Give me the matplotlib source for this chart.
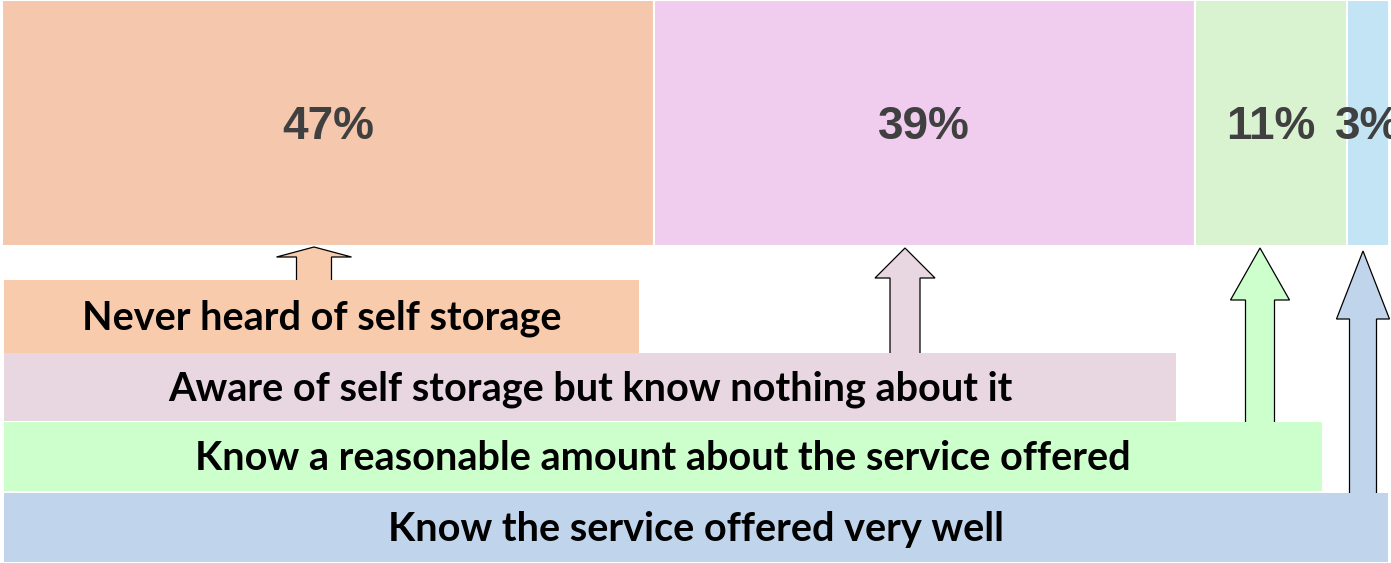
import matplotlib
matplotlib.use("Agg")
import matplotlib.pyplot as plt
import matplotlib.patches as patches

# shares of respondents (percent)
shares = [47, 39, 11, 3]
share_labels = ["47%", "39%", "11%", "3%"]
bar_colors = ["#F5C7AC", "#F0CDEE", "#D9F2D0", "#C2E4F5"]

categories = [
    "Never heard of self storage",
    "Aware of self storage but know nothing about it",
    "Know a reasonable amount about the service offered",
    "Know the service offered very well",
]
box_colors = ["#F8CBAD", "#E8D6E1", "#CCFFCC", "#C0D5EB"]

W, H = 1391, 563

# layout of the callout boxes (pixels): left, top, right, bottom
boxes = [(4, 280, 639, 353), (4, 353, 1176, 421),
         (4, 422, 1322, 491), (4, 493, 1388, 562)]
# block arrows (pixels): x centre, tip y, shaft width, head width, head length
arrows = [(314, 247, 35, 75, 10), (905, 248, 30, 60, 30),
          (1260, 248, 29, 59, 52), (1363, 251, 27, 53, 68)]


def add_arrow(ax, x, tip, bottom, width, head_w, head_l, color):
    a = patches.FancyArrow(x, bottom, 0, tip - bottom, width=width,
                           head_width=head_w, head_length=head_l,
                           length_includes_head=True,
                           facecolor=color, edgecolor="black", lw=0.9, zorder=1)
    ax.add_patch(a)


fig = plt.figure(figsize=(W / 100, H / 100), dpi=100)

# top stacked bar
px = 13.87  # pixels per percent
ax = fig.add_axes([0, 1 - 246 / H, 1, 246 / H])
left = 0
for v, lab, c in zip(shares, share_labels, bar_colors):
    ax.barh(0, v, left=left, height=1, color=c, edgecolor="white", lw=1.5)
    ax.text(left + v / 2, -0.016, lab, ha="center", va="center", fontsize=33,
            fontweight="bold", color="#404040", family="Liberation Sans")
    left += v
ax.set_xlim(-2 / px, (W - 2) / px)
ax.set_ylim(-0.5, 0.5)
ax.axis("off")

# callouts
ax2 = fig.add_axes([0, 0, 1, 1], zorder=-1)
ax2.set_xlim(0, W)
ax2.set_ylim(H, 0)
ax2.axis("off")
for (l, t, r, b), c, txt in zip(boxes, box_colors, categories):
    ax2.add_patch(patches.Rectangle((l, t), r - l, b - t, facecolor=c,
                                    edgecolor="none", zorder=2))
    ax2.text((l + r) / 2, (t + b) / 2 + 2, txt, ha="center", va="center",
             fontsize=28.5, fontweight="bold", family="Lato", zorder=3)
for (x, tip, w, hw, hl), (l, t, r, b), c in zip(arrows, boxes, box_colors):
    add_arrow(ax2, x, tip, t + 1, w, hw, hl, c)

plt.savefig("out.png", dpi=100)
plt.close()
